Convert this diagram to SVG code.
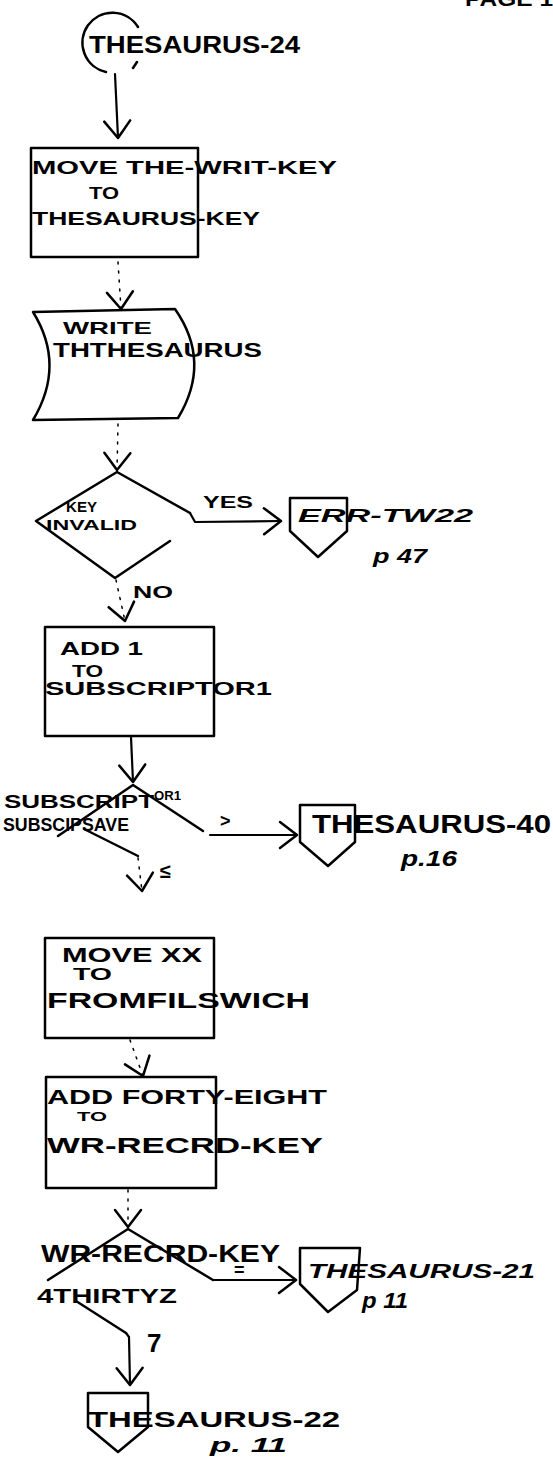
<svg xmlns="http://www.w3.org/2000/svg" width="553" height="1463" viewBox="0 0 553 1463">
<style>
.s{fill:none;stroke:#000;stroke-width:2.5;stroke-linejoin:round;stroke-linecap:round}
.c{fill:none;stroke:#000;stroke-width:2.2;stroke-linecap:round}
.d{fill:none;stroke:#000;stroke-width:1.5;stroke-dasharray:2 7;stroke-linecap:round}
.t{font-family:"Liberation Sans",Arial,sans-serif;fill:#000;font-weight:bold}
.i{font-style:italic}
</style>
<defs>
<marker id="ah" markerUnits="userSpaceOnUse" markerWidth="40" markerHeight="40" refX="0" refY="0" viewBox="-20 -20 40 40" orient="auto">
<path d="M-17,-13 L0,0 L-17,13" fill="none" stroke="#000" stroke-width="2.5" stroke-linecap="round" stroke-linejoin="round"/>
</marker>
</defs>
<rect width="553" height="1463" fill="#fff"/>
<text class="t" x="465" y="6" font-size="20" textLength="88" lengthAdjust="spacingAndGlyphs">PAGE 1</text>

<g id="connectors">
<path class="c" d="M115,74 L118,138" marker-end="url(#ah)"/>
<path class="d" d="M118,262 L121,309" marker-end="url(#ah)"/>
<path class="d" d="M118,424 L117,470" marker-end="url(#ah)"/>
<path class="c" d="M190,513 L195,522 L281,521" marker-end="url(#ah)"/>
<path class="d" d="M116,580 L125,621" marker-end="url(#ah)"/>
<path class="c" d="M131,737 L133,782" marker-end="url(#ah)"/>
<path class="c" d="M210,835 L297,835" marker-end="url(#ah)"/>
<path class="d" d="M138,858 L142,891" marker-end="url(#ah)"/>
<path class="d" d="M130,1040 L143,1076" marker-end="url(#ah)"/>
<path class="d" d="M128,1190 L128,1227" marker-end="url(#ah)"/>
<path class="c" d="M213,1280 L296,1280" marker-end="url(#ah)"/>
<path class="c" d="M126,1333 L129,1337 L130,1385" marker-end="url(#ah)"/>
<text class="t" x="203" y="508" font-size="16" textLength="50" lengthAdjust="spacingAndGlyphs">YES</text>
<text class="t" x="133" y="598" font-size="16" textLength="40" lengthAdjust="spacingAndGlyphs">NO</text>
<text class="t" x="220" y="827" font-size="18">&gt;</text>
<text class="t" x="160" y="878" font-size="20">≤</text>
<text class="t" x="234" y="1276" font-size="18">=</text>
<text class="t" x="147" y="1352" font-size="26">7</text>
</g>

<g id="start">
<path class="s" d="M138,27 A30,30 0 1 0 106,72"/>
<path class="s" d="M133,68 L137,62"/>
<text class="t" x="89" y="53" font-size="24" textLength="211" lengthAdjust="spacingAndGlyphs">THESAURUS-24</text>
</g>

<g id="move-key">
<rect class="s" x="31" y="148" width="167" height="109"/>
<text class="t" x="32" y="174" font-size="18" textLength="305" lengthAdjust="spacingAndGlyphs">MOVE THE-WRIT-KEY</text>
<text class="t" x="89" y="199" font-size="17" textLength="30" lengthAdjust="spacingAndGlyphs">TO</text>
<text class="t" x="32" y="225" font-size="18" textLength="228" lengthAdjust="spacingAndGlyphs">THESAURUS-KEY</text>
</g>

<g id="write">
<path class="s" d="M33,312 L175,309 Q212,362 178,418 L33,420 Q66,365 33,312 Z"/>
<text class="t" x="63" y="334" font-size="17" textLength="89" lengthAdjust="spacingAndGlyphs">WRITE</text>
<text class="t" x="53" y="357" font-size="21" textLength="209" lengthAdjust="spacingAndGlyphs">THTHESAURUS</text>
</g>

<g id="key-invalid">
<path class="s" d="M117,472 L190,513 M170,541 L115,578 L36,521 L117,472"/>
<text class="t" x="66" y="512" font-size="15" textLength="31" lengthAdjust="spacingAndGlyphs">KEY</text>
<text class="t" x="46" y="530" font-size="15" textLength="91" lengthAdjust="spacingAndGlyphs">INVALID</text>
</g>

<g id="err-tw22">
<path class="s" d="M290,498 L347,498 L347,531 L318,557 L290,531 Z"/>
<text class="t i" x="298" y="522" font-size="19" textLength="175" lengthAdjust="spacingAndGlyphs">ERR-TW22</text>
<text class="t i" x="373" y="563" font-size="20" textLength="54" lengthAdjust="spacingAndGlyphs">p 47</text>
</g>

<g id="add-1">
<rect class="s" x="45" y="627" width="169" height="109"/>
<text class="t" x="60" y="655" font-size="18" textLength="83" lengthAdjust="spacingAndGlyphs">ADD 1</text>
<text class="t" x="72" y="677" font-size="16" textLength="31" lengthAdjust="spacingAndGlyphs">TO</text>
<text class="t" x="45" y="695" font-size="18" textLength="227" lengthAdjust="spacingAndGlyphs">SUBSCRIPTOR1</text>
</g>

<g id="compare-subscript">
<path class="s" d="M58,836 L133,785 L203,831 M84,829 L138,856"/>
<text class="t"><tspan x="4" y="808" font-size="18" textLength="150" lengthAdjust="spacingAndGlyphs">SUBSCRIPT</tspan><tspan x="154" y="800" font-size="12" textLength="27" lengthAdjust="spacingAndGlyphs">OR1</tspan></text>
<text class="t" x="3" y="831" font-size="18" textLength="126" lengthAdjust="spacingAndGlyphs">SUBSCIPSAVE</text>
</g>

<g id="thesaurus-40">
<path class="s" d="M300,805 L355,805 L355,842 L328,866 L300,842 Z"/>
<text class="t" x="312" y="833" font-size="26" textLength="239" lengthAdjust="spacingAndGlyphs">THESAURUS-40</text>
<text class="t i" x="401" y="866" font-size="22" textLength="56" lengthAdjust="spacingAndGlyphs">p.16</text>
</g>

<g id="move-xx">
<rect class="s" x="45" y="938" width="169" height="100"/>
<text class="t" x="62" y="962" font-size="20" textLength="140" lengthAdjust="spacingAndGlyphs">MOVE  XX</text>
<text class="t" x="73" y="980" font-size="16" textLength="39" lengthAdjust="spacingAndGlyphs">TO</text>
<text class="t" x="47" y="1008" font-size="22" textLength="263" lengthAdjust="spacingAndGlyphs">FROMFILSWICH</text>
</g>

<g id="add-forty-eight">
<rect class="s" x="46" y="1077" width="170" height="111"/>
<text class="t" x="47" y="1104" font-size="20" textLength="280" lengthAdjust="spacingAndGlyphs">ADD FORTY-EIGHT</text>
<text class="t" x="77" y="1121" font-size="13" textLength="30" lengthAdjust="spacingAndGlyphs">TO</text>
<text class="t" x="47" y="1153" font-size="22" textLength="276" lengthAdjust="spacingAndGlyphs">WR-RECRD-KEY</text>
</g>

<g id="compare-record-key">
<path class="s" d="M48,1280 L128,1229 L213,1280 M76,1301 L126,1333"/>
<text class="t" x="41" y="1262" font-size="24" textLength="239" lengthAdjust="spacingAndGlyphs">WR-RECRD-KEY</text>
<text class="t" x="37" y="1303" font-size="20" textLength="140" lengthAdjust="spacingAndGlyphs">4THIRTYZ</text>
</g>

<g id="thesaurus-21">
<path class="s" d="M300,1248 L360,1248 L357,1290 L328,1312 L300,1284 Z"/>
<text class="t i" x="308" y="1278" font-size="20" textLength="227" lengthAdjust="spacingAndGlyphs">THESAURUS-21</text>
<text class="t i" x="362" y="1308" font-size="22" textLength="46" lengthAdjust="spacingAndGlyphs">p 11</text>
</g>

<g id="thesaurus-22">
<path class="s" d="M88,1393 L148,1393 L148,1427 L118,1452 L88,1427 Z"/>
<text class="t" x="88" y="1427" font-size="22" textLength="252" lengthAdjust="spacingAndGlyphs">THESAURUS-22</text>
<text class="t i" x="210" y="1452" font-size="21" textLength="77" lengthAdjust="spacingAndGlyphs">p. 11</text>
</g>
</svg>
